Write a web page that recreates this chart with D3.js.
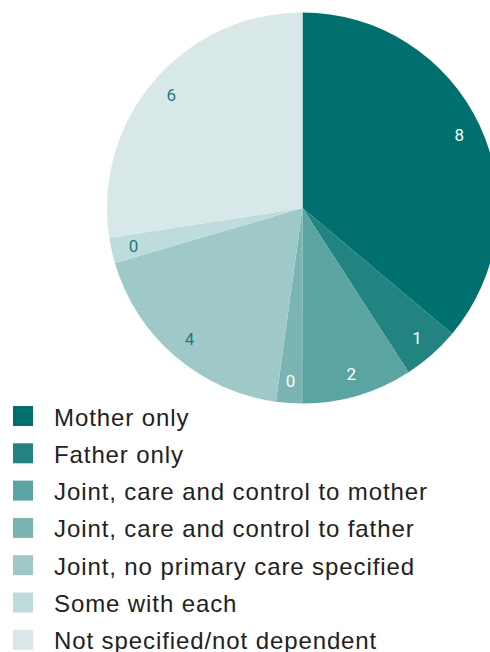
<!DOCTYPE html>
<html>
<head>
<meta charset="utf-8">
<script src="https://cdn.jsdelivr.net/npm/d3@7"></script>
<style>
  html, body { margin: 0; padding: 0; background: #fff; }
  svg { display: block; }
</style>
</head>
<body>
<svg id="chart" width="490" height="652"></svg>
<script>
// Living arrangements of dependent children
const categories = [
  "Mother only",
  "Father only",
  "Joint, care and control to mother",
  "Joint, care and control to father",
  "Joint, no primary care specified",
  "Some with each",
  "Not specified/not dependent"
];
const values = [7.9, 1.04, 2.0, 0.47, 4.0, 0.46, 6.0];
const colors = ["#00706e", "#228481", "#5aa4a1", "#7bb5b3", "#9fc9c8", "#bfdcdc", "#d8e8e9"];
const labelColors = ["#ffffff", "#ffffff", "#ffffff", "#ffffff", "#1b7d7a", "#1b7d7a", "#1b7d7a"];

const svg = d3.select("#chart");
const cx = 302.5, cy = 208, radius = 195.5;

const data = categories.map((c, i) => ({ name: c, value: values[i], color: colors[i], labelColor: labelColors[i] }));

const pie = d3.pie().value(d => d.value).sort(null);
const arc = d3.arc().innerRadius(0).outerRadius(radius);
const labelArc = d3.arc().innerRadius(radius * 0.885).outerRadius(radius * 0.885);

const g = svg.append("g").attr("transform", `translate(${cx},${cy})`);
const arcs = pie(data);

g.selectAll("path.slice")
  .data(arcs)
  .join("path")
  .attr("class", "slice")
  .attr("d", arc)
  .attr("fill", d => d.data.color);

const fmt = d3.format(".0f");
g.selectAll("text.val")
  .data(arcs)
  .join("text")
  .attr("class", "val")
  .attr("transform", d => `translate(${labelArc.centroid(d)})`)
  .attr("text-anchor", "middle")
  .attr("dominant-baseline", "central")
  .attr("font-family", "Roboto, 'Noto Sans', sans-serif")
  .attr("font-size", 17)
  .attr("fill", d => d.data.labelColor)
  .text(d => fmt(d.data.value));

// Legend
const legend = svg.append("g").attr("transform", "translate(13,406)");
const rowH = 37.3;
const rows = legend.selectAll("g.row")
  .data(data)
  .join("g")
  .attr("class", "row")
  .attr("transform", (d, i) => `translate(0,${i * rowH})`);

rows.append("rect")
  .attr("width", 20)
  .attr("height", 20)
  .attr("fill", d => d.color);

rows.append("text")
  .attr("x", 41)
  .attr("y", 19.5)
  .attr("font-family", "'Liberation Sans', Arial, sans-serif")
  .attr("font-size", 24)
  .attr("letter-spacing", 0.9)
  .attr("fill", "#222")
  .text(d => d.name);
</script>
</body>
</html>
